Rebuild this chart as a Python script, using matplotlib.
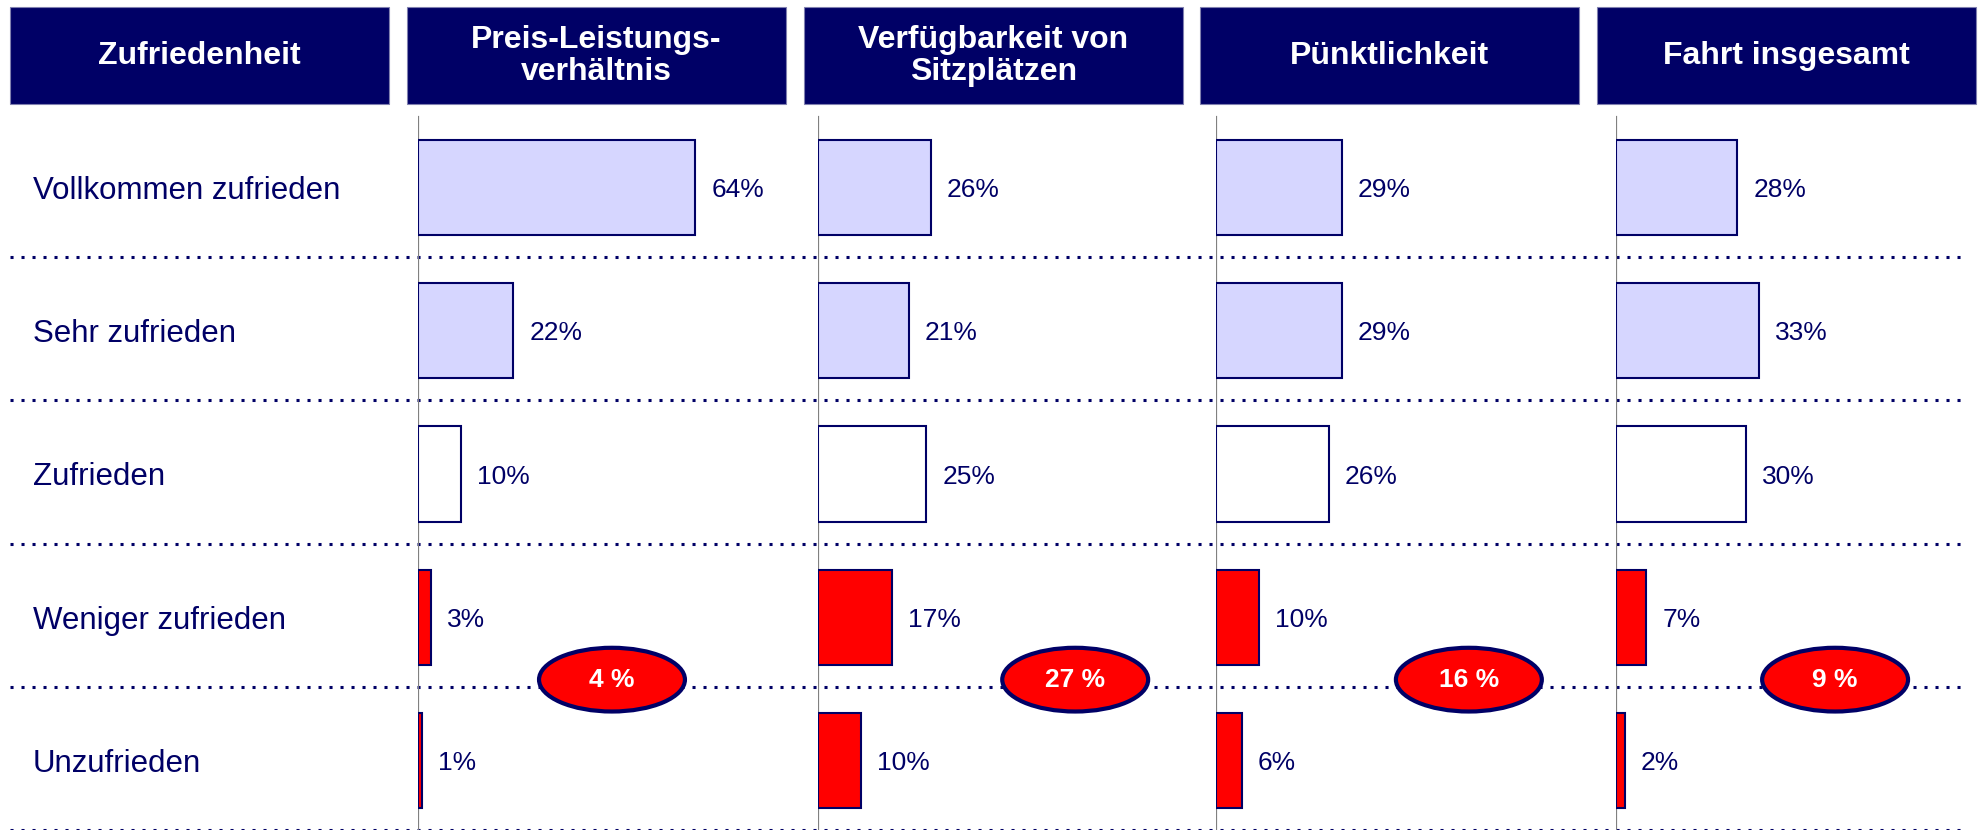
import matplotlib
matplotlib.use("Agg")
import matplotlib.pyplot as plt
import numpy as np
from matplotlib.patches import Rectangle, Ellipse

# ---------------- data ----------------
headers = ["Zufriedenheit", "Preis-Leistungs-\nverhältnis", "Verfügbarkeit von\nSitzplätzen",
           "Pünktlichkeit", "Fahrt insgesamt"]
categories = ["Vollkommen zufrieden", "Sehr zufrieden", "Zufrieden",
              "Weniger zufrieden", "Unzufrieden"]
preis_leistung = [64, 22, 10, 3, 1]
sitzplaetze = [26, 21, 25, 17, 10]
puenktlichkeit = [29, 29, 26, 10, 6]
fahrt_insgesamt = [28, 33, 30, 7, 2]
unzufrieden_summe = [4, 27, 16, 9]

series = [preis_leistung, sitzplaetze, puenktlichkeit, fahrt_insgesamt]

# ---------------- style / layout ----------------
NAVY = "#000066"
LIGHT = "#D6D6FF"
RED = "#FF0000"
GRAY = "#808080"
row_fill = [LIGHT, LIGHT, "white", RED, RED]

W, H = 1980, 830
plt.rcParams['font.family'] = ['Liberation Sans', 'DejaVu Sans']
fig = plt.figure(figsize=(W / 100, H / 100), dpi=100)

top_px = 114            # top of the row area
row_px = (H - top_px) / 5
px_per_pct = 4.33
panel_x = [418, 818, 1216, 1616]
panel_w = 398
ellipse_x = [44.8, 59.4, 58.4, 50.6]   # centre of the summary ellipse, in % units
bar_shift = 2 / row_px                  # bars sit slightly below row middle
cat_base = bar_shift + 11.3 / row_px    # baseline offsets for text
val_base = bar_shift + 9.5 / row_px

area_h = (H - top_px) / H

# background axes in pixel units: header boxes
bg = fig.add_axes([0, 0, 1, 1])
bg.set_xlim(0, W)
bg.set_ylim(H, 0)
bg.axis('off')
for k, txt in enumerate(headers):
    x0 = 10 + 396.8 * k
    bg.add_patch(Rectangle((x0, 7), 379, 97, facecolor=NAVY, edgecolor="#8080B0", linewidth=0.8))
    bg.text(x0 + 379 / 2, 56, txt, color="white", fontsize=23, fontweight="bold",
            ha="center", va="center", linespacing=1.08)

# grid axes: dotted row separators across the full width
grid = fig.add_axes([0, 0, 1, area_h])
grid.set_xlim(0, W)
grid.set_ylim(4.5, -0.5)
grid.axis('off')
for yb in [0.5, 1.5, 2.5, 3.5, 4.5]:
    grid.plot([10, 1963], [yb, yb], color=NAVY, linewidth=2.2,
              linestyle=(0, (1, 2.6)), solid_capstyle='butt', dash_capstyle='butt',
              clip_on=False)

# category labels
lab = fig.add_axes([0, 0, panel_x[0] / W, area_h])
lab.set_xlim(0, panel_x[0])
lab.set_ylim(4.5, -0.5)
lab.axis('off')
for i, c in enumerate(categories):
    lab.text(33, i + cat_base, c, color=NAVY, fontsize=22.5, ha="left", va="baseline")

# panels
rows = np.arange(len(categories))
for p, vals in enumerate(series):
    ax = fig.add_axes([panel_x[p] / W, 0, panel_w / W, area_h])
    ax.set_xlim(0, panel_w / px_per_pct)
    ax.set_ylim(4.5, -0.5)
    ax.axis('off')
    ax.axvline(0, ymin=0, ymax=1 - 3 / (H - top_px), color=GRAY, linewidth=1.6)
    ax.barh(rows + bar_shift, vals, height=0.665, color=row_fill, edgecolor=NAVY,
            linewidth=1.5, zorder=3)
    for i, v in enumerate(vals):
        ax.text(v + 3.7, i + val_base, f"{v}%", color=NAVY, fontsize=19,
                ha="left", va="baseline")
    ell = Ellipse((ellipse_x[p], 3.45), 33.7, 0.445, facecolor=RED, edgecolor=NAVY,
                  linewidth=3, zorder=5, clip_on=False)
    ax.add_patch(ell)
    ax.text(ellipse_x[p], 3.45, f"{unzufrieden_summe[p]} %", color="white", fontsize=19,
            fontweight="bold", ha="center", va="center", zorder=6)

fig.savefig("out.png", dpi=100)
